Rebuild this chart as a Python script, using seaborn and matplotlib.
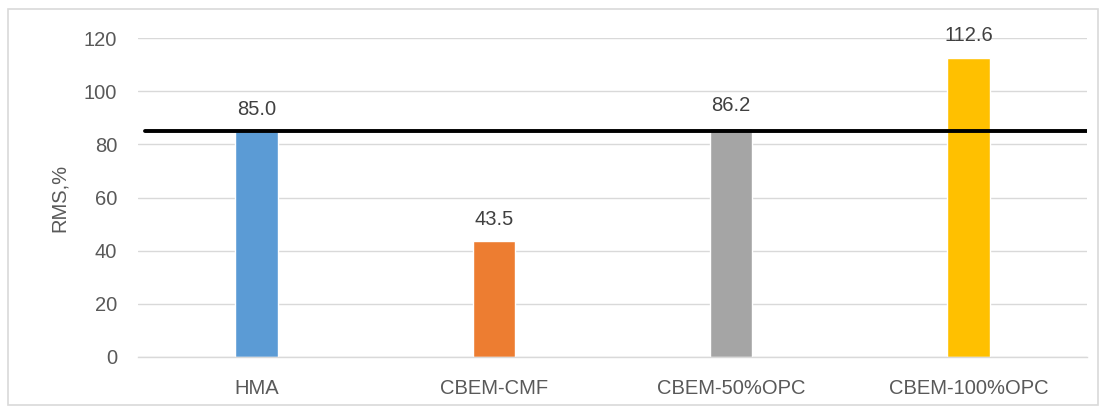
import matplotlib
matplotlib.use("Agg")
import matplotlib.pyplot as plt
import seaborn as sns
import pandas as pd
from matplotlib.patches import Rectangle

categories = ["HMA", "CBEM-CMF", "CBEM-50%OPC", "CBEM-100%OPC"]
rms_values = [85.0, 43.5, 86.2, 112.6]
reference_value = 85.0
bar_colors = ["#5B9BD5", "#ED7D31", "#A5A5A5", "#FFC000"]
y_ticks = [0, 20, 40, 60, 80, 100, 120]

sns.set_theme(style="white")
plt.rcParams["font.family"] = ["Liberation Sans", "DejaVu Sans"]

df = pd.DataFrame({"mix": categories, "rms": rms_values})

fig = plt.figure(figsize=(11.06, 4.13), dpi=100)
ax = fig.add_axes([138 / 1106, 1 - 357 / 413, (1087 - 138) / 1106, (357 - 38) / 413])

sns.barplot(data=df, x="mix", y="rms", hue="mix", palette=bar_colors,
            width=0.18, legend=False, ax=ax, zorder=2, saturation=1)

ax.set_ylim(0, 120)
ax.set_xlim(-0.5, 3.5)
ax.set_yticks(y_ticks)
ax.yaxis.grid(True, color="#D9D9D9", linewidth=1.0, zorder=0)
ax.set_axisbelow(True)
for s in ["top", "right", "left"]:
    ax.spines[s].set_visible(False)
ax.spines["bottom"].set_color("#D9D9D9")
ax.spines["bottom"].set_linewidth(1.0)
ax.tick_params(axis="both", length=0, colors="#595959", labelsize=14.5)
ax.tick_params(axis="y", pad=15)
ax.tick_params(axis="x", pad=16)
ax.set_xlabel("")
ax.set_ylabel("RMS,%", color="#595959", fontsize=14.5, labelpad=11)

# reference level across the chart
ax.axhline(reference_value, xmin=0.007, xmax=1.0, color="black", linewidth=2.8, zorder=3)

# value labels above each bar
for i, v in enumerate(rms_values):
    ax.annotate(f"{v:.1f}", xy=(i, v), xytext=(0, 9), textcoords="offset points",
                ha="center", va="bottom", fontsize=14.5, color="#404040")

# chart border
fig.patches.append(Rectangle((8 / 1106, 1 - 405 / 413), 1090 / 1106, 396 / 413,
                             transform=fig.transFigure, fill=False,
                             edgecolor="#D9D9D9", linewidth=1.2))

fig.savefig("out.png", dpi=100)
